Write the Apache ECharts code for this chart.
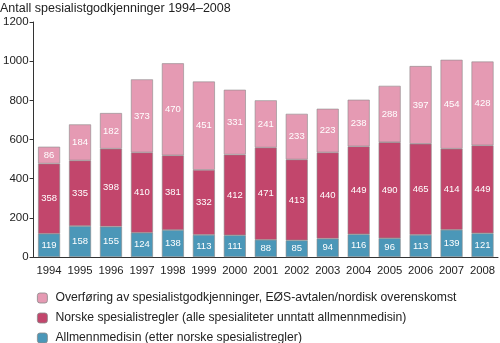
<!DOCTYPE html>
<html><head><meta charset="utf-8">
<script src="https://cdn.jsdelivr.net/npm/echarts@6/dist/echarts.min.js"></script>
<style>html,body{margin:0;padding:0;background:#fff}#c{width:500px;height:343px}</style>
</head><body><div id="c"></div>
<script>
const years = ['1994','1995','1996','1997','1998','1999','2000','2001','2002','2003','2004','2005','2006','2007','2008'];
const allmenn = [119,158,155,124,138,113,111,88,85,94,116,96,113,139,121];
const norske = [358,335,398,410,381,332,412,471,413,440,449,490,465,414,449];
const overforing = [86,184,182,373,470,451,331,241,233,223,238,288,397,454,428];
const yTicks = [0,200,400,600,800,1000,1200];
const names = ['Allmennmedisin (etter norske spesialistregler)','Norske spesialistregler (alle spesialiteter unntatt allmennmedisin)','Overføring av spesialistgodkjenninger, EØS-avtalen/nordisk overenskomst'];
const colors = ['#4b97b8','#c2466c','#e59ab3'];
const font = 'Liberation Sans, Arial, sans-serif';
const chart = echarts.init(document.getElementById('c'));
function mk(name, data, color){
  return {name, type:'bar', stack:'s', data, barWidth:22,
    itemStyle:{color, borderColor:'#8a8a8a', borderWidth:0.6},
    label:{show:true, position:'inside', color:'#fff', fontSize:9.5, fontFamily:font}};
}
function lg(name, top){
  return {orient:'vertical', left:37, top, itemWidth:10, itemHeight:10, itemGap:0, padding:0,
    data:[name], itemStyle:{borderColor:'#888', borderWidth:0.8},
    textStyle:{fontSize:12.2, color:'#222', fontFamily:font, padding:[0,0,0,3]}};
}
chart.setOption({
  animation:false,
  textStyle:{fontFamily:font},
  title:{text:'Antall spesialistgodkjenninger 1994–2008', left:0, top:2, padding:0,
    textStyle:{fontSize:12.5, fontWeight:'normal', color:'#222', fontFamily:font}},
  grid:{left:33, right:2, top:22, bottom:86},
  legend:[lg(names[2],292), lg(names[1],312), lg(names[0],332)],
  xAxis:{type:'category', data:years,
    axisLine:{lineStyle:{color:'#333', width:1}}, axisTick:{show:false},
    axisLabel:{fontSize:11.3, color:'#222', margin:8, interval:0}},
  yAxis:{type:'value', min:0, max:1200, interval:200,
    axisLine:{show:true, lineStyle:{color:'#333'}},
    axisTick:{show:true, length:4, lineStyle:{color:'#333'}},
    splitLine:{show:false},
    axisLabel:{fontSize:11.5, color:'#222', margin:5,
      formatter:v=>yTicks.includes(v)?String(v):''}},
  series:[mk(names[0],allmenn,colors[0]), mk(names[1],norske,colors[1]), mk(names[2],overforing,colors[2])]
});
</script></body></html>
